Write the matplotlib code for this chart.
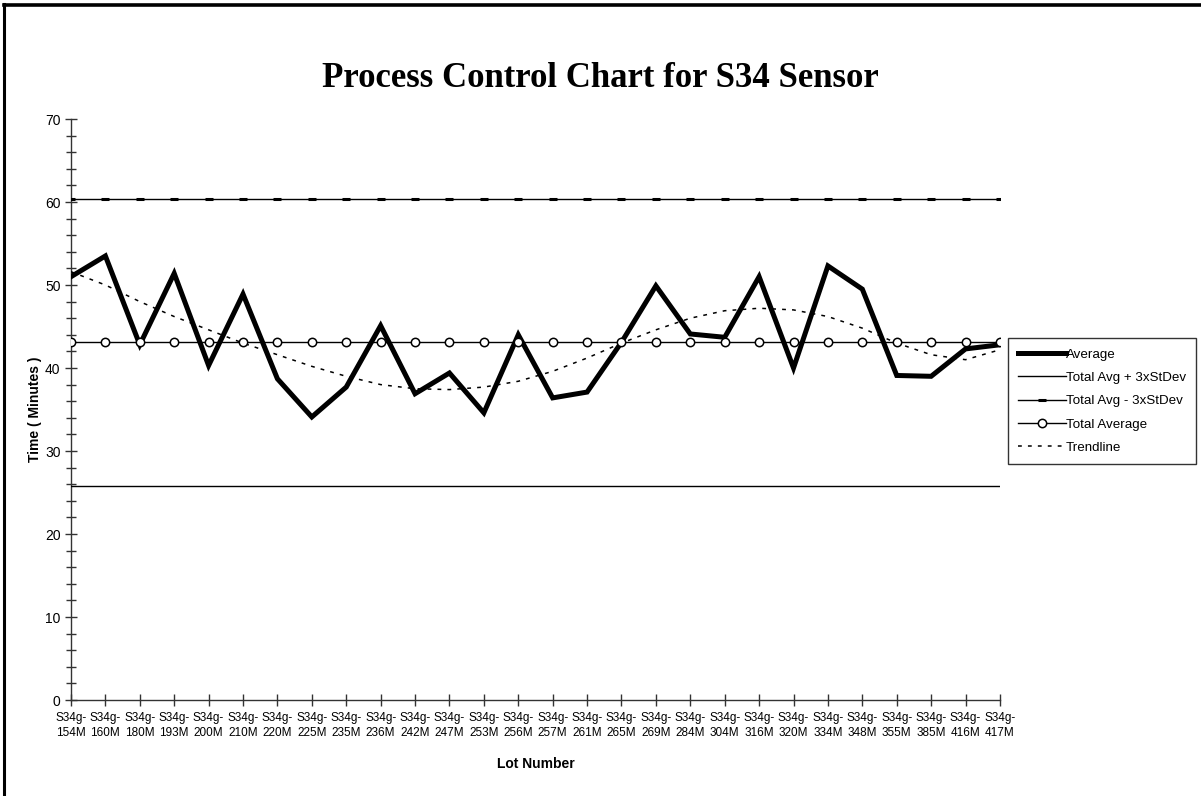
import matplotlib
matplotlib.use("Agg")
import matplotlib.pyplot as plt
from matplotlib.lines import Line2D
from matplotlib.ticker import MultipleLocator

# Lot numbers along the x axis
lots = ["154M", "160M", "180M", "193M", "200M", "210M", "220M", "225M",
        "235M", "236M", "242M", "247M", "253M", "256M", "257M", "261M",
        "265M", "269M", "284M", "304M", "316M", "320M", "334M", "348M",
        "355M", "385M", "416M", "417M"]
lot_labels = ["S34g-\n" + s for s in lots]

# Average time per lot (minutes)
average = [51.0, 53.5, 42.8, 51.4, 40.3, 48.9, 38.7, 34.1, 37.7, 45.1,
           36.9, 39.4, 34.6, 44.0, 36.4, 37.1, 43.1, 49.9, 44.1, 43.7,
           51.0, 40.0, 52.3, 49.5, 39.1, 39.0, 42.3, 42.8]

# Trendline through the averages
trend = [51.6, 50.0, 48.0, 46.2, 44.6, 43.0, 41.6, 40.2, 39.0, 38.0,
         37.5, 37.4, 37.7, 38.4, 39.6, 41.2, 43.0, 44.6, 46.0, 46.9,
         47.2, 47.0, 46.2, 44.8, 43.0, 41.6, 41.0, 42.2]

total_avg = 43.1
upper_limit = 60.4
lower_limit = 25.8

x = list(range(len(lots)))

fig = plt.figure(figsize=(12.01, 7.96), dpi=100)
ax = fig.add_axes([0.0591, 0.1206, 0.7735, 0.7299])

ax.plot(x, average, color="black", lw=3.6, solid_joinstyle="miter",
        label="Average", zorder=5)
ax.plot(x, [lower_limit] * len(x), color="black", lw=1.0,
        label="Total Avg + 3xStDev", zorder=3)
ax.plot(x, [upper_limit] * len(x), color="black", lw=1.0, marker="_",
        markersize=6, markeredgewidth=2.2, label="Total Avg - 3xStDev", zorder=3)
ax.plot(x, [total_avg] * len(x), color="black", lw=1.0, marker="o",
        markersize=6, markerfacecolor="white", markeredgecolor="black",
        markeredgewidth=1.1, label="Total Average", zorder=6)
ax.plot(x, trend, color="black", lw=1.1, linestyle=(0, (2.5, 4)),
        label="Trendline", zorder=4)

ax.set_xlim(0, len(x) - 1)
ax.set_ylim(0, 70)
ax.set_xticks(x)
ax.set_xticklabels(lot_labels, fontsize=8.5, family="Liberation Sans",
                   linespacing=1.3)
ax.yaxis.set_major_locator(MultipleLocator(10))
ax.yaxis.set_minor_locator(MultipleLocator(2))
for lab in ax.get_yticklabels():
    lab.set_family("Liberation Sans")
    lab.set_fontsize(10)

for side in ("top", "right"):
    ax.spines[side].set_visible(False)
for side in ("left", "bottom"):
    ax.spines[side].set_color("#333333")
    ax.spines[side].set_linewidth(1.0)

ax.tick_params(axis="both", which="both", direction="inout", color="#333333")
ax.tick_params(axis="y", which="major", length=9, width=1.0, pad=3)
ax.tick_params(axis="y", which="minor", length=7, width=1.0)
ax.tick_params(axis="x", which="major", length=9, width=1.0, pad=4)

ax.set_ylabel("Time ( Minutes )", fontsize=10, fontweight="bold",
              family="Liberation Sans", labelpad=2)
ax.set_xlabel("Lot Number", fontsize=10, fontweight="bold",
              family="Liberation Sans", labelpad=13)

fig.text(0.5, 0.902, "Process Control Chart for S34 Sensor",
         ha="center", va="center", fontsize=25, fontweight="bold",
         family="Liberation Serif")

leg = ax.legend(loc="center left", bbox_to_anchor=(0.839, 0.496),
                bbox_transform=fig.transFigure, frameon=True, fancybox=False,
                edgecolor="black", prop={"family": "Liberation Sans", "size": 9.6},
                handlelength=3.6, handletextpad=0.0, labelspacing=0.82,
                borderpad=0.75, borderaxespad=0)
leg.get_frame().set_linewidth(1.0)

# Outer chart border (top and left edges)
fig.add_artist(Line2D([0.003, 0.003], [0, 0.995], transform=fig.transFigure,
                      color="black", lw=2.2))
fig.add_artist(Line2D([0.003, 1.0], [0.994, 0.994], transform=fig.transFigure,
                      color="black", lw=2.6))

fig.savefig("out.png", dpi=100)
